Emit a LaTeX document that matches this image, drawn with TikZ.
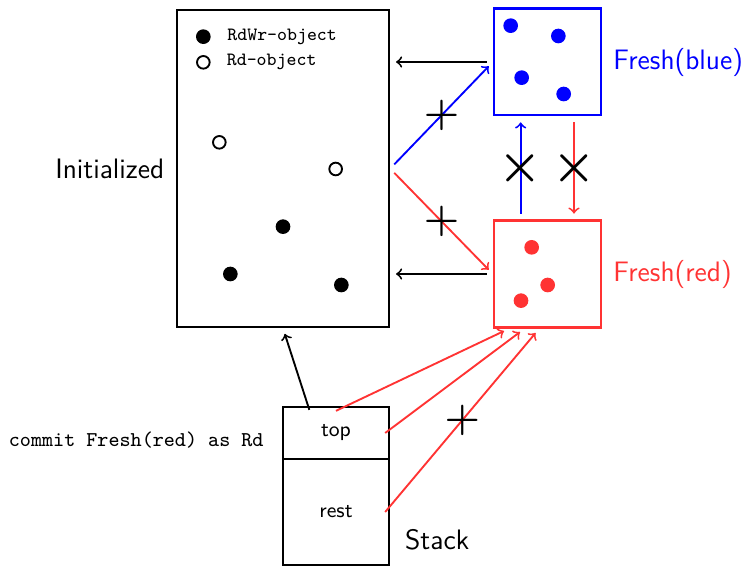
\documentclass[tikz,border=0pt]{standalone}
\usepackage{amsmath}
\usepackage{amssymb}
\usepackage{tikz}
\usepackage{bm}
\usetikzlibrary{positioning}
\colorlet{freshred}{red!80}

\begin{document}
\begin{tikzpicture}[
  box/.style={draw,line width=1pt,minimum width=1.6cm,minimum height=1.6cm},
  cell/.style={draw,line width=1pt,minimum width=1.59cm,font=\sffamily\small},
  lbl/.style={font=\sffamily\large},
  rdwr/.style={circle,fill,inner sep=0pt,minimum size=0.22cm},
  rd/.style={circle,draw,thick,inner sep=0pt,minimum size=0.19cm},
  conn/.style={->,thick,shorten <=2.5pt,shorten >=2.5pt},
  nope/.style={inner sep=0pt,text=black}
]
\useasboundingbox (0,0) rectangle (11.235,8.49);

\node[draw,line width=1pt,minimum width=3.18cm,minimum height=4.755cm] (init) at (4.245,5.96) {};
\node[box,blue] (blue) at (8.21,7.56) {};
\node[box,freshred] (red) at (8.21,4.38) {};
\node[cell,minimum height=0.78cm] (top) at (5.04,1.995) {top};
\node[cell,minimum height=1.59cm] (rest) at (5.04,0.81) {rest};

\node[lbl,left=0.05cm of init] (initlbl) {Initialized};
\node[lbl,blue,right=0.05cm of blue] (bluelbl) {Fresh(blue)};
\node[lbl,freshred,right=0.05cm of red] (redlbl) {Fresh(red)};
\node[lbl,anchor=base west] (stacklbl) at ([xshift=0.1cm,yshift=0.25cm]rest.south east) {Stack};
\node[font=\ttfamily\small,left=0.15cm of top,yshift=-0.1cm] (commit) {commit Fresh(red) as Rd};

\node[rdwr] (keyrdwr) at (3.05,7.94) {};
\node[rd] (keyrd) at (3.05,7.555) {};
\node[font=\ttfamily\footnotesize,right=0.12cm of keyrdwr] (keyrdwrtxt) {RdWr-object};
\node[font=\ttfamily\footnotesize,right=0.12cm of keyrd] (keyrdtxt) {Rd-object};

\foreach \x/\y [count=\i] in {3.29/6.355,5.035/5.955}
  \node[rd] (o\i) at (\x,\y) {};
\foreach \x/\y [count=\i] in {4.245/5.09,3.455/4.38,5.12/4.215}
  \node[rdwr] (w\i) at (\x,\y) {};
\foreach \x/\y [count=\i] in {7.66/8.105,8.375/7.95,7.825/7.325,8.455/7.08}
  \node[rdwr,blue] (b\i) at (\x,\y) {};
\foreach \x/\y [count=\i] in {7.975/4.78,8.215/4.215,7.815/3.98}
  \node[rdwr,freshred] (r\i) at (\x,\y) {};

\draw[conn] (blue.west) -- (init.east |- blue.west);
\draw[conn] (red.west) -- (init.east |- red.west);
\draw[conn,blue] (init.east) -- node[nope] (c1) {\LARGE$\bm{+}$} (blue.west);
\draw[conn,freshred] (init.east) -- node[nope] (c2) {\LARGE$\bm{+}$} (red.west);
\draw[conn,blue] ([xshift=-0.4cm]red.north) -- node[nope] (x1) {\huge$\bm{\times}$} ([xshift=-0.4cm]blue.south);
\draw[conn,freshred] ([xshift=0.4cm]blue.south) -- node[nope] (x2) {\huge$\bm{\times}$} ([xshift=0.4cm]red.north);

\draw[conn,shorten <=0pt] ([xshift=-0.4cm,yshift=-0.06cm]top.north) -- (init.south);
\draw[conn,freshred,shorten <=0pt] ([yshift=-0.075cm]top.north) -- ([xshift=-0.57cm]red.south);
\draw[conn,freshred,shorten <=0pt] ([xshift=-0.075cm]top.east) -- ([xshift=-0.34cm]red.south);
\draw[conn,freshred,shorten <=0pt] ([xshift=-0.075cm]rest.east) -- node[nope] (c3) {\LARGE$\bm{+}$} ([xshift=-0.12cm]red.south);
\end{tikzpicture}
\end{document}
